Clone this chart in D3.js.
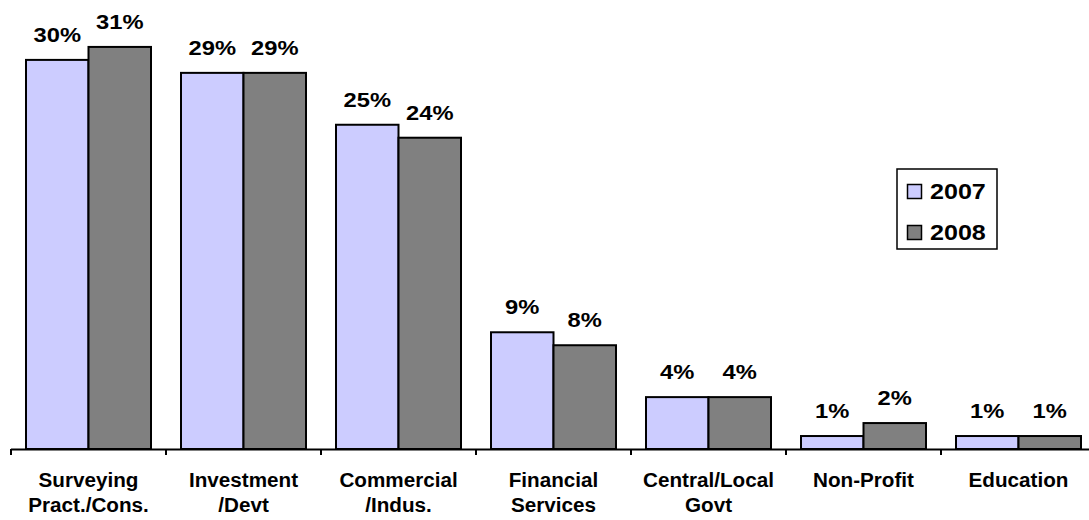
<!DOCTYPE html>
<html>
<head>
<meta charset="utf-8">
<script src="https://cdn.jsdelivr.net/npm/d3@7"></script>
<style>
  html, body { margin: 0; padding: 0; background: #fff; }
  svg { display: block; }
  text { font-family: Arial, "Liberation Sans", sans-serif; font-weight: bold; fill: #000; }
</style>
</head>
<body>
<svg id="chart" width="1089" height="520"></svg>
<script>
// Sector share of respondents, by year
const categories = [
  ["Surveying", "Pract./Cons."],
  ["Investment", "/Devt"],
  ["Commercial", "/Indus."],
  ["Financial", "Services"],
  ["Central/Local", "Govt"],
  ["Non-Profit"],
  ["Education"]
];
const years = ["2007", "2008"];
const values2007 = [30, 29, 25, 9, 4, 1, 1];
const values2008 = [31, 29, 24, 8, 4, 2, 1];
const seriesColors = ["#CCCCFF", "#808080"];

const svg = d3.select("#chart");

const baseY = 449;
const left = 11, step = 155;
const catKeys = categories.map(c => c.join(" "));

const x0 = d3.scaleBand()
  .domain(catKeys)
  .range([left, left + step * catKeys.length])
  .paddingInner(30 / 155)
  .paddingOuter(15 / 155);

const x1 = d3.scaleBand()
  .domain(years)
  .range([0, x0.bandwidth()]);

const y = d3.scaleLinear()
  .domain([0, 34])
  .range([baseY, baseY - 34 * 12.97]);

const series = [values2007, values2008];

// Bars
const groups = svg.append("g").selectAll("g")
  .data(catKeys)
  .join("g")
  .attr("transform", d => `translate(${x0(d)},0)`);

groups.selectAll("rect")
  .data((d, i) => years.map((yr, s) => ({ yr, v: series[s][i], s })))
  .join("rect")
  .attr("x", d => x1(d.yr))
  .attr("y", d => y(d.v))
  .attr("width", x1.bandwidth())
  .attr("height", d => baseY - y(d.v))
  .attr("fill", d => seriesColors[d.s])
  .attr("stroke", "#000")
  .attr("stroke-width", 2);

// Value labels
groups.selectAll("text.val")
  .data((d, i) => years.map((yr, s) => ({ yr, v: series[s][i] })))
  .join("text")
  .attr("class", "val")
  .attr("text-anchor", "middle")
  .attr("font-size", 21)
  .attr("transform", d => `translate(${x1(d.yr) + x1.bandwidth() / 2},${y(d.v) - 18}) scale(1.13,1)`)
  .text(d => d.v + "%");

// Category axis
const axisG = svg.append("g");
axisG.append("line")
  .attr("x1", left).attr("x2", left + step * catKeys.length)
  .attr("y1", baseY + 0.5).attr("y2", baseY + 0.5)
  .attr("stroke", "#000").attr("stroke-width", 2);

axisG.selectAll("line.tick")
  .data(d3.range(catKeys.length + 1))
  .join("line")
  .attr("class", "tick")
  .attr("x1", i => left + i * step).attr("x2", i => left + i * step)
  .attr("y1", baseY).attr("y2", baseY + 6)
  .attr("stroke", "#000").attr("stroke-width", 2);

const catLabels = axisG.selectAll("text.cat")
  .data(categories)
  .join("text")
  .attr("class", "cat")
  .attr("text-anchor", "middle")
  .attr("font-size", 19.5)
  .attr("transform", (d, i) => `translate(${x0(catKeys[i]) + x0.bandwidth() / 2},487) scale(1.06,1)`);

catLabels.selectAll("tspan")
  .data(d => d)
  .join("tspan")
  .attr("x", 0)
  .attr("dy", (d, i) => i === 0 ? 0 : 25)
  .text(d => d);

// Legend
const legend = svg.append("g").attr("transform", "translate(897,169)");
legend.append("rect")
  .attr("x", 0).attr("y", 0)
  .attr("width", 100).attr("height", 80)
  .attr("fill", "#fff")
  .attr("stroke", "#000").attr("stroke-width", 1.5);

const items = legend.selectAll("g.item")
  .data(years)
  .join("g")
  .attr("class", "item")
  .attr("transform", (d, i) => `translate(0,${i * 41})`);

items.append("rect")
  .attr("x", 10.5).attr("y", 15.5)
  .attr("width", 14).attr("height", 14)
  .attr("fill", (d, i) => seriesColors[i])
  .attr("stroke", "#000").attr("stroke-width", 1.5);

items.append("text")
  .attr("font-size", 22)
  .attr("transform", "translate(33,30) scale(1.14,1)")
  .text(d => d);
</script>
</body>
</html>
